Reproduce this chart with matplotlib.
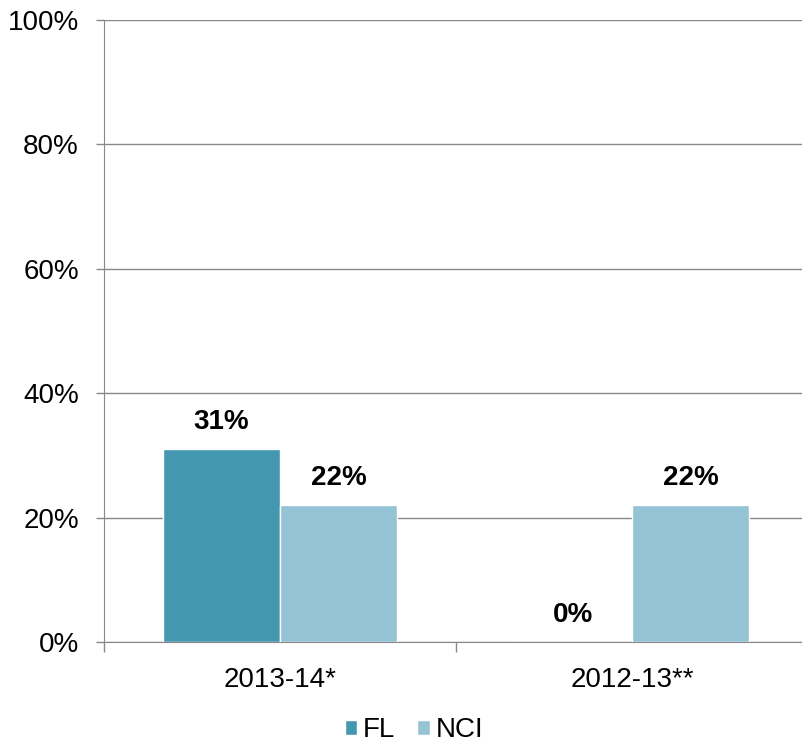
import matplotlib.pyplot as plt
import numpy as np

plt.rcParams['font.family'] = ['Liberation Sans', 'DejaVu Sans']

# Data
categories = ['2013-14*', '2012-13**']
series_names = ['FL', 'NCI']
fl_values = [31, 0]
nci_values = [22, 22]
colors = ['#4397AE', '#93C3D5']

fig = plt.figure(figsize=(8.03, 7.43), dpi=100)
ax = fig.add_axes([104 / 803, 101 / 743, 704 / 803, 622 / 743])

x = np.arange(len(categories))
w = 1 / 3
bars_fl = ax.bar(x - w / 2, fl_values, w, color=colors[0], label=series_names[0],
                 edgecolor='white', linewidth=1, zorder=3)
bars_nci = ax.bar(x + w / 2, nci_values, w, color=colors[1], label=series_names[1],
                  edgecolor='white', linewidth=1, zorder=3)

for bars in (bars_fl, bars_nci):
    for b in bars:
        h = b.get_height()
        ax.annotate(f'{h:.0f}%', (b.get_x() + b.get_width() / 2, h),
                    xytext=(0, 10), textcoords='offset points',
                    ha='center', va='bottom', fontsize=20, fontweight='bold')

ax.set_xlim(-0.5, 1.5)
ax.set_ylim(0, 100)
ax.set_yticks(range(0, 101, 20))
ax.set_yticklabels([f'{v}%' for v in range(0, 101, 20)], fontsize=20)
ax.set_xticks(x)
ax.set_xticklabels(categories, fontsize=20)
ax.set_xticks([-0.5, 0.5, 1.5], minor=True)
ax.tick_params(axis='x', which='major', length=0, pad=18)
ax.tick_params(axis='x', which='minor', length=7, color='#888888', width=1)
ax.tick_params(axis='y', length=6, color='#888888', width=1, pad=12)

ax.grid(axis='y', color='#888888', linewidth=1, zorder=0)
for s in ['top', 'right']:
    ax.spines[s].set_visible(False)
ax.spines['left'].set_color('#888888')
ax.spines['bottom'].set_color('#888888')

fig.legend(handles=[bars_fl, bars_nci], labels=series_names, loc='center',
           bbox_to_anchor=(414 / 803, 1 - 730 / 743), ncol=2, frameon=False,
           fontsize=20, handlelength=0.45, handleheight=0.45, handletextpad=0.2,
           columnspacing=0.8)

fig.savefig('out.png', dpi=100)
